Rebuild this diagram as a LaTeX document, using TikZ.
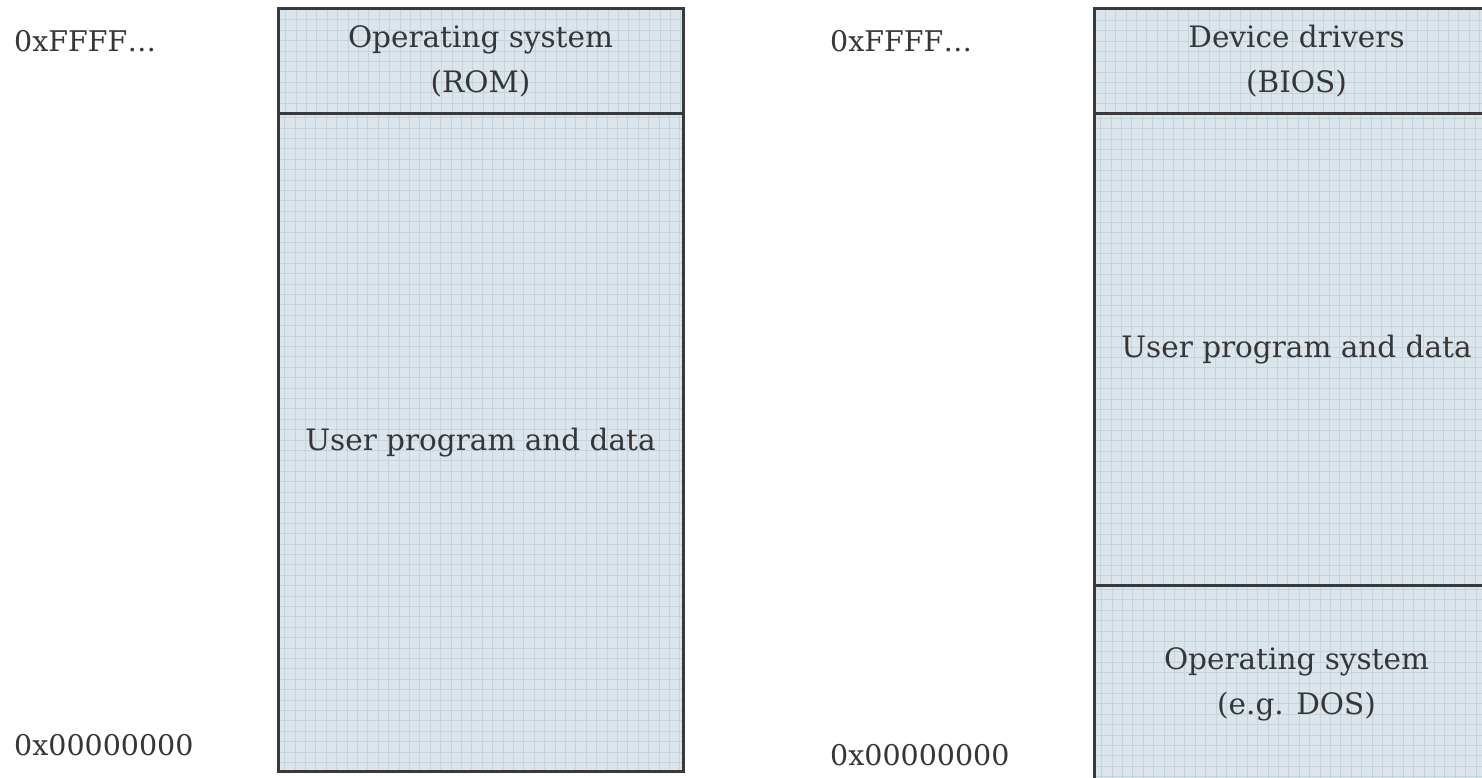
\documentclass[tikz,border=0pt]{standalone}
\usepackage{fontspec}
\setmainfont{DejaVu Serif}
\definecolor{ink}{HTML}{363636}
\definecolor{frame}{HTML}{3A3A3D}
\definecolor{paper}{HTML}{DCE5EC}
\definecolor{rule}{HTML}{C2D4DD}
\begin{document}
\begin{tikzpicture}[x=1pt,y=-1pt,
  region/.style={draw=frame, line width=3pt, fill=paper, inner sep=0pt,
    font=\fontsize{29.5}{45}\selectfont, text=ink, align=center,
    minimum width=405pt,
    path picture={\draw[rule, line width=0.8pt, step=10.4pt]
      (path picture bounding box.south west) grid (path picture bounding box.north east);}},
  addr/.style={font=\fontsize{28.5}{45}\selectfont, text=ink, inner sep=0pt, anchor=base west}]
\useasboundingbox (0,0) rectangle (1482,778);

% flat memory map with the operating system in ROM
\node[region, minimum height=657pt] (userL) at (480.5,442.5) {User program and data};
\node[region, minimum height=105pt] (osL) at (480.5,61.5) {Operating system\\(ROM)};

% PC-style map: BIOS on top, DOS at the bottom
\node[region, minimum height=471pt] (userR) at (1296.5,349.5) {User program and data};
\node[region, minimum height=105pt] (drv) at (1296.5,61.5) {Device drivers\\(BIOS)};
\node[region, minimum height=198pt] (dos) at (1296.5,684) {Operating system\\(e.g. DOS)};

% address labels
\node[addr] (hiL) at (14,51.5) {0xFFFF…};
\node[addr] (loL) at (14,755) {0x00000000};
\node[addr] (hiR) at (830,51.5) {0xFFFF…};
\node[addr] (loR) at (830,765) {0x00000000};
\end{tikzpicture}
\end{document}
